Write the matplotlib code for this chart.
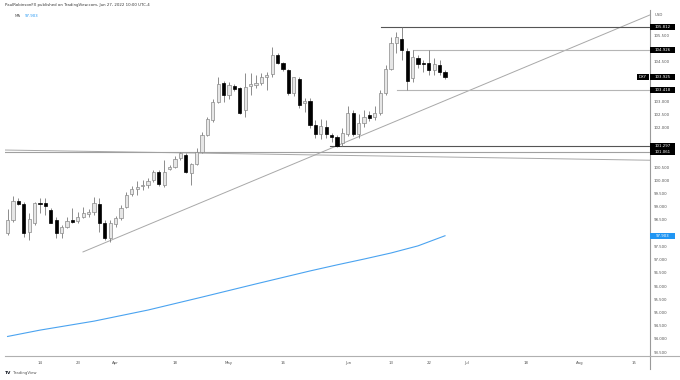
"""
DXY daily candles with MA, levels and trendlines (TradingView style)
"""

from matplotlib import pyplot as plt
from matplotlib.patches import Rectangle
import numpy as np
import pandas as pd

plt.rcParams['font.family'] = ['DejaVu Sans']

# daily bars, 2022-03-04 .. 2022-06-27 (weekdays)
first_day = '2022-03-04'

opens = [98.02, 98.50, 99.23, 99.09, 98.06, 98.38, 99.13, 99.13, 98.88, 98.50,
         98.00, 98.25, 98.50, 98.47, 98.62, 98.73, 98.79, 99.09, 98.40, 97.81,
         98.35, 98.57, 99.00, 99.48, 99.66, 99.79, 99.84, 100.00, 100.30, 99.83,
         100.42, 100.50, 100.84, 100.96, 100.27, 100.62, 101.09, 101.72, 102.29, 102.98,
         103.68, 103.23, 103.59, 103.49, 102.67, 103.59, 103.62, 103.70, 103.93, 104.02,
         104.75, 104.46, 104.18, 103.32, 103.83, 102.92, 103.02, 102.10, 101.76, 102.02,
         101.72, 101.63, 101.43, 101.76, 102.54, 101.76, 102.16, 102.48, 102.39, 102.56,
         103.32, 104.21, 105.19, 105.34, 104.91, 103.87, 104.62, 104.44, 104.44, 104.18,
         104.37, 104.12]
highs = [98.91, 99.41, 99.32, 99.19, 98.75, 99.19, 99.32, 99.32, 98.95, 98.62,
         98.31, 98.62, 98.94, 98.81, 99.00, 98.90, 99.36, 99.32, 98.50, 98.50,
         98.65, 99.05, 99.55, 99.80, 99.98, 100.00, 100.10, 100.40, 100.38, 100.77,
         100.60, 100.92, 101.09, 101.03, 100.65, 101.22, 101.84, 102.41, 103.07, 103.93,
         103.75, 103.74, 103.64, 103.55, 104.08, 104.07, 103.99, 104.08, 104.11, 105.04,
         104.81, 104.50, 104.21, 103.93, 103.93, 103.11, 103.12, 102.28, 102.32, 102.28,
         101.80, 101.72, 101.98, 102.82, 102.67, 102.50, 102.67, 102.63, 102.82, 103.42,
         104.37, 105.43, 105.63, 105.81, 105.01, 104.93, 104.75, 104.56, 104.93, 104.63,
         104.56, 104.18]
lows = [97.93, 98.44, 99.05, 97.87, 97.74, 98.31, 98.75, 98.69, 98.37, 97.81,
        97.81, 98.19, 98.38, 98.38, 98.56, 98.62, 98.69, 98.06, 97.74, 97.68,
        98.25, 98.50, 98.95, 99.40, 99.45, 99.65, 99.70, 99.95, 99.78, 99.76,
        100.38, 100.45, 100.78, 100.27, 99.83, 100.58, 101.05, 101.68, 102.22, 102.92,
        102.95, 103.07, 103.40, 102.50, 102.39, 103.23, 103.49, 103.61, 103.42, 103.93,
        104.42, 104.15, 103.25, 103.20, 102.73, 102.60, 101.98, 101.60, 101.55, 101.62,
        101.45, 101.25, 101.30, 101.68, 101.68, 101.62, 102.02, 102.25, 102.29, 102.48,
        103.23, 104.18, 104.81, 104.56, 103.42, 103.73, 104.26, 104.11, 103.99, 104.00,
        104.00, 103.85]
closes = [98.50, 99.23, 99.09, 98.02, 98.53, 99.13, 99.10, 99.03, 98.40, 98.02,
          98.22, 98.47, 98.44, 98.62, 98.78, 98.81, 99.13, 98.40, 97.81, 98.37,
          98.56, 98.96, 99.45, 99.67, 99.76, 99.84, 99.98, 100.30, 99.85, 100.33,
          100.52, 100.80, 101.03, 100.33, 100.61, 101.09, 101.72, 102.31, 102.98, 103.65,
          103.23, 103.61, 103.46, 102.54, 103.55, 103.66, 103.70, 103.93, 104.00, 104.75,
          104.46, 104.21, 103.30, 103.91, 102.86, 103.02, 102.10, 101.76, 102.06, 101.76,
          101.63, 101.30, 101.78, 102.54, 101.76, 102.17, 102.41, 102.35, 102.54, 103.30,
          104.21, 105.19, 105.44, 104.94, 103.78, 104.66, 104.41, 104.41, 104.18, 104.41,
          104.12, 103.925]

# moving average, read at a few bars
ma_bars = [0, 6, 16, 26, 36, 46, 56, 61, 66, 71, 76, 81]
ma_vals = [94.09, 94.33, 94.67, 95.09, 95.58, 96.08, 96.57, 96.80, 97.02, 97.25, 97.52, 97.903]

# horizontal levels and where they begin (bar index)
levels = [105.812, 104.926, 103.418, 101.297, 101.061]
level_from = [69.1, 75.0, 72.1, 59.7, -1.0]
level_colors = ['#555555', '#b5b5b5', '#b5b5b5', '#555555', '#a0a0a0']

# trendlines (bar index, price)
rising_x = [13.96, 119.5]
rising_y = [97.29, 106.31]
flat_x = [-1.0, 119.5]
flat_y = [101.15, 100.76]

tick_dates = ['2022-03-14', '2022-03-23', '2022-04-01', '2022-04-18', '2022-05-02',
              '2022-05-16', '2022-06-01', '2022-06-13', '2022-06-22', '2022-07-01',
              '2022-07-18', '2022-08-01', '2022-08-15']
tick_names = ['14', '23', 'Apr', '18', 'May', '16', 'Jun', '13', '22', 'Jul',
              '18', 'Aug', '15']

last_price = 103.925
ma_last = 97.903


def price_box(ax, x0, value, text, color, width=25):
    # label on the price scale, x0 in axes units, width in pixels
    tr = ax.get_yaxis_transform()
    ax.add_patch(Rectangle((x0, value - 0.115), width / 645, 0.23, transform=tr,
                           facecolor=color, edgecolor='none',
                           clip_on=False, zorder=5))
    ax.text(x0 + width / 2 / 645, value, text, transform=tr, ha='center',
            va='center', fontsize=2.8, color='white', zorder=6)


def main():
    days = pd.bdate_range(first_day, '2022-09-30')
    pos = np.arange(len(opens))
    o = np.array(opens)
    c = np.array(closes)
    up = c >= o
    bottom = np.minimum(o, c)
    height = np.maximum(np.abs(c - o), 0.025)

    fig = plt.figure(figsize=(6.8, 3.8), dpi=100)
    W, H = 680, 380
    ax = fig.add_axes([5 / W, 24 / H, 645 / W, 346 / H])
    ax.set_xlim(-0.48, 118.96)
    ax.set_ylim(93.35, 106.45)

    # trend / level lines
    ax.plot(rising_x, rising_y, color='#a8a8a8', lw=0.7, zorder=1)
    ax.plot(flat_x, flat_y, color='#a8a8a8', lw=0.7, zorder=1)
    for lv, x0, col in zip(levels, level_from, level_colors):
        ax.plot([x0, 119.5], [lv, lv], color=col, lw=0.8, zorder=1)

    # moving average
    ax.plot(ma_bars, ma_vals, color='#4aa3f0', lw=0.8, zorder=2)

    # candles
    ax.vlines(pos, lows, highs, color='#7a7a7a', lw=0.6, zorder=3)
    ax.bar(pos[up], height[up], bottom=bottom[up], width=0.62,
           color='#e6e6e6', edgecolor='#8a8a8a', lw=0.5, zorder=4)
    ax.bar(pos[~up], height[~up], bottom=bottom[~up], width=0.62,
           color='black', edgecolor='black', lw=0.5, zorder=4)

    # axes look
    for s in ['top', 'left']:
        ax.spines[s].set_visible(False)
    ax.spines['right'].set_color('#9a9a9a')
    ax.spines['bottom'].set_color('#b0b0b0')
    ax.spines['right'].set_linewidth(0.8)
    ax.spines['bottom'].set_linewidth(0.8)

    tick_pos = [days.get_loc(pd.Timestamp(d)) for d in tick_dates]
    ax.set_xticks(tick_pos, tick_names)
    ax.yaxis.tick_right()
    # price scale, skipping the values hidden under the label boxes
    covered = levels + [last_price, ma_last]
    yt = [v for v in np.arange(93.5, 106.01, 0.5)
          if min(abs(v - b) for b in covered) > 0.21]
    ax.set_yticks(yt, [f'{v:.3f}' for v in yt])
    ax.tick_params(axis='both', length=0, labelsize=2.8, labelcolor='#555555')
    ax.tick_params(axis='x', pad=3.5)
    ax.tick_params(axis='y', pad=2.5)

    # price boxes
    for lv in levels + [last_price]:
        price_box(ax, 1.0, lv, f'{lv:.3f}', 'black')
    price_box(ax, 1.0, ma_last, f'{ma_last:.3f}', '#2196f3')
    price_box(ax, 1.0 - 13 / 645, last_price, 'DXY', 'black', width=12)

    # frame extensions
    fig.add_artist(plt.Line2D([650 / W, 650 / W], [1 - 356 / H, 1 - 369 / H],
                              color='#9a9a9a', lw=0.8))
    fig.add_artist(plt.Line2D([650 / W, 680 / W], [1 - 356 / H, 1 - 356 / H],
                              color='#b0b0b0', lw=0.8))

    # header texts
    fig.text(5 / W, 1 - 5 / H, 'PaulRobinsonFX published on TradingView.com, Jun 27, 2022 10:00 UTC-4',
             fontsize=2.8, color='#333333', va='center', ha='left')
    fig.text(15 / W, 1 - 16 / H, 'MA', fontsize=2.8, color='#555555', va='center')
    fig.text(25 / W, 1 - 16 / H, f'{ma_last:.3f}', fontsize=2.8, color='#2196f3', va='center')
    fig.text(655 / W, 1 - 15 / H, 'USD', fontsize=2.8, color='#555555', va='center')
    fig.text(5 / W, 1 - 373 / H, 'TV', fontsize=3.2, color='#131722',
             weight='bold', va='center')
    fig.text(13 / W, 1 - 373 / H, 'TradingView', fontsize=2.8, color='#555555', va='center')

    fig.savefig('out.png', dpi=100, facecolor='white')


if __name__ == '__main__':
    main()
